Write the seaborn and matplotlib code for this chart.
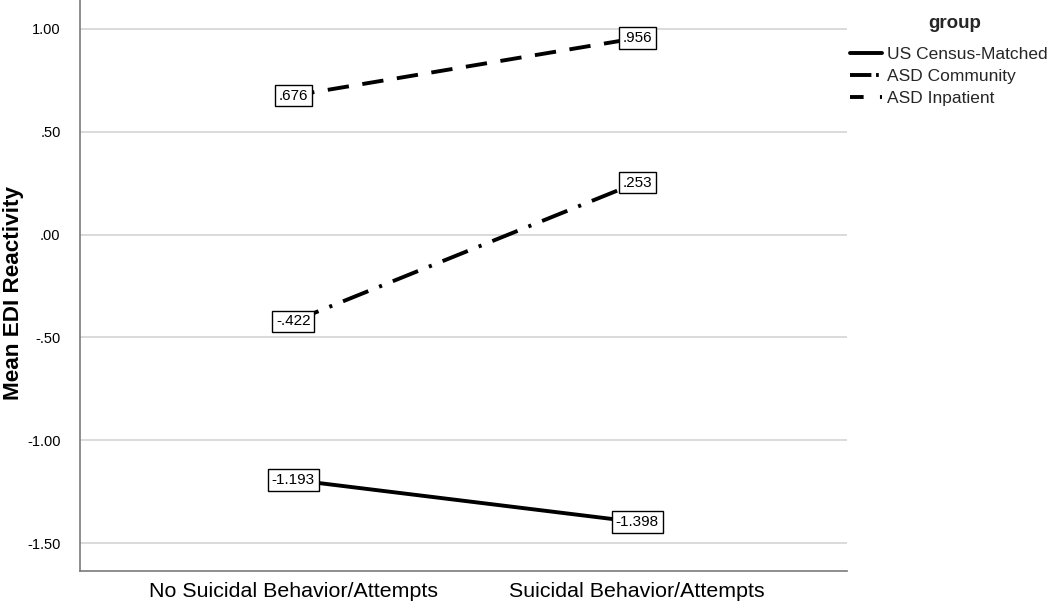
import matplotlib
matplotlib.use("Agg")
import matplotlib.pyplot as plt
from matplotlib.lines import Line2D
import pandas as pd
import seaborn as sns

categories = ["No Suicidal Behavior/Attempts", "Suicidal Behavior/Attempts"]
groups = ["US Census-Matched", "ASD Community", "ASD Inpatient"]
census_means = [-1.193, -1.398]
community_means = [-0.422, 0.253]
inpatient_means = [0.676, 0.956]
y_ticks = [1.0, 0.5, 0.0, -0.5, -1.0, -1.5]
y_tick_labels = ["1.00", ".50", ".00", "-.50", "-1.00", "-1.50"]


def fmt(v):
    s = f"{v:.3f}"
    return s.replace("0.", ".", 1) if abs(v) < 1 else s


rows = []
for g, vals in zip(groups, [census_means, community_means, inpatient_means]):
    for c, v in zip(categories, vals):
        rows.append({"behavior": c, "group": g, "mean": v})
df = pd.DataFrame(rows)

sns.set_style("white")
plt.rcParams["font.family"] = ["Liberation Sans", "DejaVu Sans"]

fig = plt.figure(figsize=(10.5, 6.05), dpi=100)
ax = fig.add_axes([0.0762, 0.0562, 0.7305, 0.9438])

lw = 2.8
dashes = {
    "US Census-Matched": "",
    "ASD Community": (7, 3, 0.8, 3),
    "ASD Inpatient": (5.5, 3.5),
}

sns.lineplot(
    data=df,
    x="behavior",
    y="mean",
    hue="group",
    style="group",
    hue_order=groups,
    style_order=groups,
    palette=["black"] * 3,
    dashes=dashes,
    linewidth=lw,
    legend=False,
    ax=ax,
)

for vals in [census_means, community_means, inpatient_means]:
    for i, v in enumerate(vals):
        ax.text(
            i, v, fmt(v),
            ha="center", va="center", fontsize=11, color="black", zorder=5,
            bbox=dict(boxstyle="square,pad=0.25", fc="white", ec="black", lw=1),
        )

ax.set_xlim(-0.62, 1.61)
ax.set_ylim(-1.636, 1.141)
ax.set_yticks(y_ticks)
ax.set_yticklabels(y_tick_labels)
ax.tick_params(axis="x", labelsize=15.4, length=0, pad=8, labelcolor="black")
ax.tick_params(axis="y", labelsize=10.5, length=0, pad=14, labelcolor="black")
ax.yaxis.grid(True, color="#d4d4d4", lw=1.2)
ax.set_axisbelow(True)

ax.set_xlabel("")
ax.set_ylabel("Mean EDI Reactivity", fontsize=16.2, fontweight="bold", color="black")
# label anchor is the right-hand edge of the rotated text
ax.yaxis.set_label_coords(-0.073, 0.487)

for side in ["top", "right"]:
    ax.spines[side].set_visible(False)
for side in ["left", "bottom"]:
    ax.spines[side].set_color("#7a7a7a")
    ax.spines[side].set_linewidth(1.2)

legend_dashes = {
    "US Census-Matched": "-",
    "ASD Community": (0, (5.5, 1.2, 0.7, 20)),
    "ASD Inpatient": (0, (3.5, 4.2, 0.7, 20)),
}
handles = [Line2D([0], [0], color="black", lw=lw, linestyle=legend_dashes[g])
           for g in groups]

fig.text(955 / 1050, 1 - 23 / 605, "group", ha="center", va="center",
         fontsize=13.5, fontweight="bold")
ax.legend(
    handles, groups,
    loc="upper left",
    bbox_to_anchor=(850 / 1050, 1 - 47 / 605),
    bbox_transform=fig.transFigure,
    frameon=False,
    fontsize=12.5,
    handlelength=1.84,
    handletextpad=0.29,
    labelspacing=0.4,
    borderaxespad=0,
    borderpad=0,
)

fig.savefig("out.png", dpi=100)
